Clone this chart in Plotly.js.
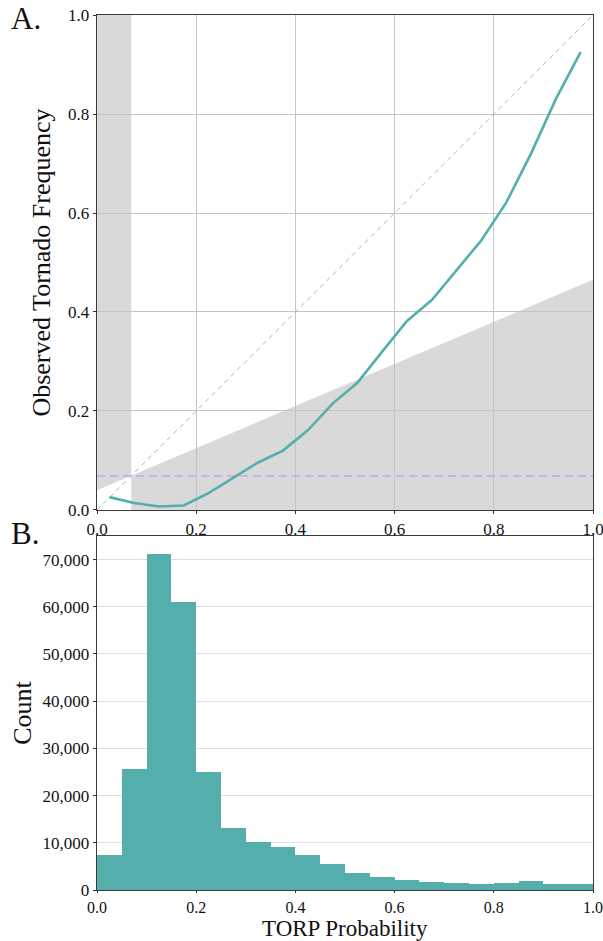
<!DOCTYPE html>
<html>
<head>
<meta charset="utf-8">
<script src="https://cdn.plot.ly/plotly-3.0.1.min.js"></script>
<style>html,body{margin:0;padding:0;background:#fff;}#chart{width:603px;height:941px;}</style>
</head>
<body>
<div id="chart"></div>
<script>
// ---- Panel A: reliability diagram data ----
const forecastProb = [0.025,0.075,0.125,0.175,0.225,0.275,0.325,0.375,0.425,0.475,0.525,0.575,0.625,0.675,0.725,0.775,0.825,0.875,0.925,0.975];
const observedFreq = [0.026,0.014,0.007,0.009,0.034,0.065,0.096,0.120,0.161,0.215,0.257,0.320,0.382,0.424,0.485,0.545,0.621,0.720,0.830,0.925];
const climatology = 0.069;
const skillLineX = [0, 1];
const skillLineY = [0.040, 0.465];
const perfectX = [0, 1];
const perfectY = [0, 1];

// ---- Panel B: histogram data ----
const binCenters = [0.025,0.075,0.125,0.175,0.225,0.275,0.325,0.375,0.425,0.475,0.525,0.575,0.625,0.675,0.725,0.775,0.825,0.875,0.925,0.975];
const binCounts  = [7400,25600,71200,61000,25000,13200,10200,9100,7400,5500,3700,2800,2100,1700,1500,1300,1500,1900,1300,1300];
const binWidth = 0.05;

const xTicks = [0,0.2,0.4,0.6,0.8,1.0];
const yTicksA = [0,0.2,0.4,0.6,0.8,1.0];
const yTicksB = [0,10000,20000,30000,40000,50000,60000,70000];
const xTitleB = 'TORP Probability';

const FONT = 'Liberation Serif, Times New Roman, serif';
const teal = '#53aeac';
const shade = '#d9d9d9';

function skillAt(x){
  const k = (skillLineY[1]-skillLineY[0])/(skillLineX[1]-skillLineX[0]);
  return skillLineY[0] + k*(x - skillLineX[0]);
}

const x0 = skillLineX[0], x1 = skillLineX[1];
const upperPath = `M ${x0},${skillAt(x0)} L ${x0},1 L ${climatology},1 L ${climatology},${skillAt(climatology)} Z`;
const lowerPath = `M ${climatology},0 L ${climatology},${skillAt(climatology)} L ${x1},${skillAt(x1)} L ${x1},0 Z`;

const traces = [
  {x: perfectX, y: perfectY, xaxis:'x', yaxis:'y', mode:'lines', type:'scatter',
   line:{color:'#b5b5b5', width:1, dash:'5px,4px'}, hoverinfo:'skip', showlegend:false},
  {x: [x0, x1], y: [climatology, climatology], xaxis:'x', yaxis:'y', mode:'lines', type:'scatter',
   line:{color:'#c8acf0', width:1.6, dash:'8px,5px'}, hoverinfo:'skip', showlegend:false},
  {x: forecastProb, y: observedFreq, xaxis:'x', yaxis:'y', mode:'lines', type:'scatter',
   line:{color: teal, width:2.6}, showlegend:false},
  {x: binCenters, y: binCounts, xaxis:'x2', yaxis:'y2', type:'bar', width: binWidth,
   marker:{color: teal, line:{width:0}}, showlegend:false}
];

const axisCommon = {
  showline:true, mirror:true, linecolor:'#3a3a3a', linewidth:1.3,
  ticks:'outside', ticklen:3, tickwidth:1, tickcolor:'#333',
  tickfont:{family:FONT, size:17, color:'#111'}, zeroline:false,
  ticklabeloverflow:'allow'
};

const layout = {
  width:603, height:941,
  margin:{l:97, r:10, t:15, b:51},
  paper_bgcolor:'#fff', plot_bgcolor:'#fff',
  font:{family:FONT, color:'#111'},
  bargap:0,
  xaxis: Object.assign({}, axisCommon, {
    domain:[0,1], range:[0,1], tickvals:xTicks, tickformat:'.1f',
    showgrid:true, gridcolor:'#c4c4c4', gridwidth:1, anchor:'y'
  }),
  yaxis: Object.assign({}, axisCommon, {
    domain:[0.4343,1], range:[0,1], tickvals:yTicksA, tickformat:'.1f',
    showgrid:true, gridcolor:'#c4c4c4', gridwidth:1, anchor:'x',
    title:{text:'Observed Tornado Frequency', font:{family:FONT, size:26, color:'#111'}, standoff:10}
  }),
  xaxis2: Object.assign({}, axisCommon, {
    domain:[0,1], range:[0,1], tickvals:xTicks, tickformat:'.1f',
    showgrid:false, anchor:'y2', ticklen:2,
    tickfont:{family:FONT, size:16, color:'#111'}
  }),
  yaxis2: Object.assign({}, axisCommon, {
    domain:[0,0.4046], range:[0,75000], tickvals:yTicksB, tickformat:',d',
    showgrid:true, gridcolor:'#e0e0e0', gridwidth:1, anchor:'x2',
    title:{text:'Count', font:{family:FONT, size:26, color:'#111'}, standoff:3}
  }),
  shapes:[
    {type:'path', xref:'x', yref:'y', path: upperPath, fillcolor: shade, line:{width:0}, layer:'below'},
    {type:'path', xref:'x', yref:'y', path: lowerPath, fillcolor: shade, line:{width:0}, layer:'below'}
  ],
  annotations:[
    {text:'A.', xref:'paper', yref:'paper', x:-0.177, y:0.996, xanchor:'left', yanchor:'middle',
     showarrow:false, font:{family:FONT, size:31, color:'#111'}},
    {text:'B.', xref:'paper', yref:'paper', x:-0.177, y:0.408, xanchor:'left', yanchor:'middle',
     showarrow:false, font:{family:FONT, size:31, color:'#111'}},
    {text: xTitleB, xref:'paper', yref:'paper', x:0.5, y:-0.0594, xanchor:'center', yanchor:'bottom',
     borderpad:0, showarrow:false, font:{family:FONT, size:23, color:'#111'}}
  ]
};

Plotly.newPlot('chart', traces, layout, {displayModeBar:false, staticPlot:true});
</script>
</body>
</html>
